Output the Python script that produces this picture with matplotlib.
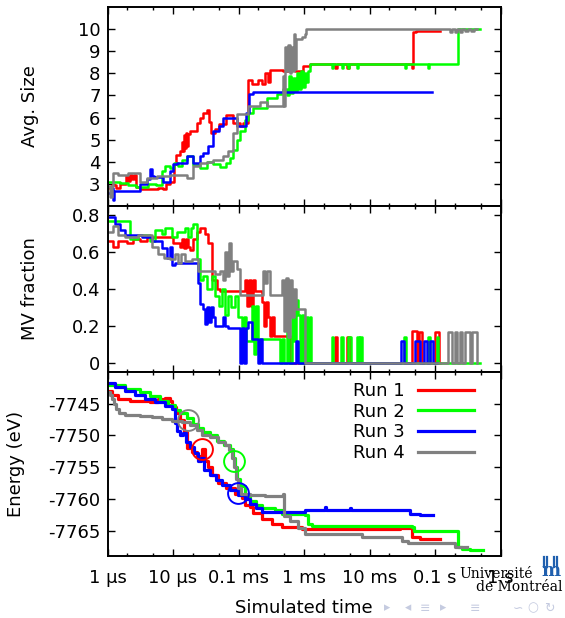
import matplotlib
matplotlib.use('Agg')
import matplotlib.pyplot as plt
from matplotlib.ticker import FixedLocator, NullFormatter
from matplotlib.lines import Line2D

plt.rcParams['font.family'] = ['DejaVu Sans']
plt.rcParams['font.size'] = 13

# all times in microseconds, pairs are (time, value)
runs = ['Run 1', 'Run 2', 'Run 3', 'Run 4']
colors = ['#ff0000', '#00ff00', '#0000ff', '#808080']

size_run1 = [(1.0, 2.8), (1.17, 2.95), (1.35, 2.8), (1.55, 3.0), (1.92, 3.35), (2.06, 3.15), (2.21, 3.4),
             (2.37, 3.2), (2.54, 3.4), (2.72, 2.85), (3.13, 2.75), (5.9, 2.8), (7.04, 2.75), (7.8, 3.0),
             (9.0, 3.1), (10.4, 3.9), (11.1, 4.3), (12.8, 4.5), (13.7, 4.9), (14.2, 4.5), (14.7, 5.2),
             (15.2, 4.6), (15.8, 5.3), (16.4, 4.7), (16.9, 5.25), (18.2, 5.4), (23.3, 5.75), (25.8, 6.0),
             (28.7, 6.2), (33.0, 6.35), (35.4, 5.8), (38.0, 5.3), (43.8, 5.5), (50.4, 5.7), (64.4, 6.1),
             (82.4, 5.75), (105, 5.6), (117, 5.75), (140, 7.7), (161, 7.5), (199, 7.7), (228, 7.5),
             (254, 8.0), (282, 7.6), (303, 8.15), (478, 8.1), (570, 8.2), (729, 8.1), (966, 8.35),
             (1235, 8.4), (2970, 8.25), (3190, 8.4), (4530, 8.25), (4860, 8.4), (44000, 8.25),
             (46100, 9.85), (51300, 9.9), (119000, 9.9)]
size_run2 = [(1.0, 3.1), (1.55, 3.05), (2.06, 2.95), (2.72, 2.85), (4.15, 3.0), (5.5, 2.95), (6.8, 3.6),
             (7.55, 3.8), (9.0, 3.7), (10.4, 3.95), (11.9, 3.8), (13.7, 4.1), (16.4, 4.25), (20.2, 3.85),
             (25.8, 3.7), (33.0, 4.0), (40.8, 3.9), (52.2, 3.75), (64.4, 3.95), (74.2, 4.15), (82.4, 4.55),
             (94.8, 5.0), (105, 5.4), (126, 5.9), (140, 6.2), (166, 6.45), (272, 6.9), (387, 7.05),
             (478, 7.3), (550, 7.0), (590, 7.9), (634, 7.1), (679, 7.8), (729, 7.2), (782, 8.0),
             (839, 7.3), (900, 8.1), (966, 7.4), (1036, 8.0), (1090, 7.6), (1150, 8.1), (1235, 8.4),
             (2670, 8.25), (2770, 8.4), (3750, 8.25), (3900, 8.4), (4700, 8.25), (4860, 8.4),
             (6440, 8.25), (6670, 8.4), (34800, 8.25), (36100, 8.4), (78000, 8.25), (81000, 8.4),
             (224000, 10.0), (486000, 10.0)]
size_run3 = [(1.0, 2.6), (1.13, 2.8), (1.21, 2.25), (1.26, 2.7), (3.13, 3.0), (4.01, 3.2), (4.46, 3.65),
             (4.78, 3.35), (5.13, 3.3), (7.04, 3.1), (9.0, 3.6), (10.0, 3.9), (11.5, 3.95), (16.4, 4.25),
             (20.2, 3.95), (25.8, 4.25), (28.7, 4.4), (34.2, 4.7), (40.8, 5.4), (50.4, 5.6), (58, 6.0),
             (94.8, 5.6), (130, 6.2), (145, 7.05), (166, 7.15), (90000, 7.15)]
size_run4 = [(1.0, 2.9), (1.09, 2.4), (1.17, 2.9), (1.21, 3.5), (1.45, 3.4), (2.06, 3.5), (3.13, 3.1),
             (4.01, 3.25), (5.7, 3.35), (9.0, 3.4), (16.4, 3.25), (20.2, 3.8), (25.8, 3.95), (33.0, 4.0),
             (40.8, 4.1), (58, 4.25), (69, 4.5), (82.4, 5.3), (94.8, 6.15), (140, 6.5), (213, 6.7),
             (272, 6.5), (478, 7.9), (495, 6.5), (513, 9.2), (550, 8.1), (570, 9.3), (611, 8.0),
             (634, 9.2), (679, 8.1), (703, 9.8), (729, 8.2), (755, 9.55), (931, 9.65), (1036, 9.8),
             (1090, 10.0), (169000, 9.85), (182000, 10.0), (202000, 9.85), (217000, 10.0),
             (241000, 9.85), (258000, 10.0), (287000, 9.9), (319000, 10.0), (355000, 9.9),
             (394000, 10.0), (438000, 10.0)]

mv_run1 = [(1.0, 0.66), (1.21, 0.63), (1.45, 0.66), (1.98, 0.65), (2.45, 0.67), (3.13, 0.66), (4.01, 0.68),
           (10, 0.65), (12.8, 0.63), (13.7, 0.67), (14.7, 0.62), (15.8, 0.67), (16.9, 0.63), (18.2, 0.61),
           (20.2, 0.67), (23.3, 0.71), (25.8, 0.73), (30.8, 0.70), (34.2, 0.65), (39.4, 0.45), (47.0, 0.40),
           (52.2, 0.39), (126, 0.45), (135, 0.31), (145, 0.45), (155, 0.31), (166, 0.45), (179, 0.39),
           (228, 0.33), (245, 0.2), (263, 0.33), (282, 0.25), (303, 0.145), (325, 0.25), (348, 0.145),
           (611, 0.0), (2970, 0.14), (3190, 0.0), (4530, 0.14), (5035, 0.0), (44500, 0.17), (53100, 0.0),
           (57000, 0.165), (63400, 0.0), (100000, 0.165), (115000, 0.0), (119000, 0.0)]
mv_run2 = [(1.0, 0.77), (1.55, 0.77), (2.21, 0.67), (2.92, 0.69), (4.46, 0.66), (5.31, 0.72), (6.8, 0.70),
           (7.55, 0.73), (9.66, 0.68), (11.5, 0.71), (15.2, 0.73), (16.9, 0.68), (18.8, 0.73), (20.2, 0.75),
           (23.3, 0.56), (25.8, 0.45), (28.7, 0.47), (33.0, 0.40), (39.4, 0.47), (43.8, 0.36), (50.4, 0.31),
           (56, 0.40), (62.2, 0.26), (69.1, 0.36), (76.8, 0.30), (88.5, 0.36), (98.2, 0.25), (113, 0.09),
           (121, 0.25), (130, 0.12), (161, 0.31), (172, 0.05), (185, 0.31), (199, 0.13), (430, 0.0),
           (461, 0.13), (495, 0.0), (550, 0.25), (590, 0.0), (656, 0.34), (703, 0.12), (755, 0.34),
           (810, 0.26), (869, 0.0), (931, 0.26), (1000, 0.0), (1075, 0.25), (1150, 0.0), (1235, 0.25),
           (1280, 0.0), (2670, 0.14), (2770, 0.0), (3670, 0.14), (3940, 0.0), (4700, 0.14), (5220, 0.0),
           (6440, 0.14), (6920, 0.0), (7160, 0.14), (7680, 0.0), (33700, 0.14), (36100, 0.0),
           (78100, 0.14), (83900, 0.0), (107000, 0.14), (111000, 0.0), (486000, 0.0)]
mv_run3 = [(1.0, 0.79), (1.30, 0.75), (1.55, 0.72), (1.85, 0.69), (3.37, 0.68), (4.77, 0.66), (6.8, 0.62),
           (8.1, 0.57), (9.0, 0.63), (9.66, 0.53), (10.7, 0.54), (24.1, 0.43), (25.8, 0.32), (28.7, 0.29),
           (30.8, 0.21), (33.0, 0.30), (35.4, 0.22), (38.0, 0.30), (40.8, 0.25), (43.8, 0.20), (58, 0.25),
           (62.2, 0.20), (69.1, 0.19), (105, 0.0), (113, 0.19), (121, 0.0), (130, 0.19), (140, 0.22),
           (161, 0.13), (199, 0.0), (213, 0.13), (228, 0.0), (755, 0.12), (810, 0.0), (30300, 0.12),
           (33700, 0.0), (49500, 0.12), (59000, 0.0), (67900, 0.12), (75500, 0.0), (83900, 0.12),
           (93200, 0.0), (107000, 0.0)]
mv_run4 = [(1.0, 0.71), (1.21, 0.74), (1.45, 0.69), (1.85, 0.68), (2.92, 0.69), (4.77, 0.63), (5.9, 0.59),
           (7.29, 0.57), (9.0, 0.56), (10.7, 0.59), (11.9, 0.54), (13.2, 0.59), (15.2, 0.55), (19.5, 0.56),
           (24.1, 0.50), (43.8, 0.48), (52.2, 0.50), (58, 0.45), (62.2, 0.60), (66.7, 0.47), (71.6, 0.65),
           (76.8, 0.50), (82.4, 0.55), (94.8, 0.51), (105, 0.37), (236, 0.50), (254, 0.43), (272, 0.50),
           (303, 0.37), (461, 0.45), (495, 0.17), (531, 0.46), (570, 0.14), (611, 0.45), (656, 0.25),
           (703, 0.40), (755, 0.29), (1036, 0.0), (158000, 0.165), (182000, 0.0), (202000, 0.165),
           (217000, 0.0), (241000, 0.165), (258000, 0.0), (287000, 0.165), (342000, 0.0),
           (367000, 0.165), (438000, 0.0)]

e_run1 = [(1.0, -7743.0), (1.17, -7743.6), (1.45, -7744.3), (2.21, -7744.6), (4.46, -7744.7), (5.9, -7744.3),
          (7.55, -7744.1), (9.0, -7744.6), (9.66, -7745.5), (11.1, -7746.5), (12.8, -7747.6), (14.7, -7749.5),
          (16.4, -7752.0), (19.5, -7752.6), (23.3, -7753.2), (27.7, -7752.2), (30.8, -7754.0), (34.2, -7755.0),
          (39.4, -7756.3), (48.6, -7757.5), (64.4, -7758.3), (88.5, -7759.3), (113, -7759.8), (126, -7761.0),
          (150, -7761.3), (166, -7762.2), (228, -7763.2), (325, -7764.0), (461, -7764.4), (931, -7764.7),
          (29200, -7764.6), (44500, -7766.0), (59000, -7766.3), (119000, -7766.3)]
e_run2 = [(1.0, -7742.0), (1.85, -7742.6), (3.13, -7743.2), (4.46, -7743.8), (6.33, -7744.6), (8.39, -7745.2),
          (10.7, -7746.0), (12.8, -7746.5), (16.4, -7747.3), (20.2, -7748.2), (24.1, -7748.8), (28.7, -7749.5),
          (36.7, -7750.0), (47.0, -7750.8), (60, -7751.5), (74.2, -7752.2), (82.4, -7753.5), (88.5, -7755.0),
          (94.8, -7756.8), (105, -7758.0), (126, -7759.6), (150, -7760.4), (185, -7761.0), (228, -7761.5),
          (361, -7761.8), (461, -7762.3), (1036, -7762.5), (1150, -7764.0), (1325, -7764.2), (44500, -7764.5),
          (47800, -7765.0), (224000, -7767.6), (258000, -7767.9), (342000, -7768.1), (541000, -7768.1)]
e_run3 = [(1.0, -7741.7), (1.30, -7742.3), (1.85, -7743.0), (2.63, -7743.6), (3.74, -7744.2), (5.31, -7744.8),
          (7.55, -7745.3), (9.66, -7745.8), (10.7, -7748.0), (11.5, -7749.3), (12.8, -7750.0), (14.2, -7749.6),
          (15.8, -7751.0), (18.2, -7751.8), (20.9, -7752.8), (24.1, -7754.0), (26.8, -7753.5), (29.7, -7755.4),
          (36.7, -7756.2), (45.3, -7757.0), (56, -7757.8), (74.2, -7758.6), (98.2, -7759.4), (126, -7760.0),
          (150, -7760.8), (185, -7761.4), (228, -7762.0), (1036, -7761.8), (2090, -7761.3), (2200, -7761.8),
          (5000, -7761.4), (5300, -7761.8), (41500, -7762.3), (59000, -7762.6), (93200, -7762.6)]
e_run4 = [(1.0, -7743.2), (1.09, -7743.6), (1.17, -7744.3), (1.26, -7745.0), (1.35, -7745.8), (1.5, -7746.4),
          (1.85, -7746.7), (3.13, -7746.9), (4.77, -7747.1), (6.8, -7747.4), (9.66, -7747.7), (13.7, -7747.9),
          (18.2, -7748.4), (23.3, -7749.2), (27.7, -7749.9), (36.7, -7750.3), (48.6, -7751.0), (62.2, -7751.5),
          (71.6, -7752.3), (79.6, -7753.5), (85.4, -7755.0), (91.6, -7756.8), (98.2, -7758.3), (109, -7759.2),
          (150, -7759.4), (254, -7759.5), (478, -7759.3), (495, -7762.7), (611, -7763.5), (810, -7764.6),
          (1036, -7765.5), (4230, -7765.6), (7680, -7766.0), (31300, -7766.6), (38700, -7767.0),
          (202000, -7767.6), (308000, -7767.6)]

# highlighted events on the energy curves (Run 1..4)
event_t = [28.0, 85.3, 99.3, 16.8]
event_e = [-7752.1, -7754.0, -7759.1, -7747.5]

xtick_pos = [1, 10, 100, 1e3, 1e4, 1e5, 1e6]
xtick_lab = ['1 µs', '10 µs', '0.1 ms', '1 ms', '10 ms', '0.1 s', '1 s']
size_ticks = [3, 4, 5, 6, 7, 8, 9, 10]
mv_ticks = [0, 0.2, 0.4, 0.6, 0.8]
mv_labels = ['0', '0.2', '0.4', '0.6', '0.8']
e_ticks = [-7765, -7760, -7755, -7750, -7745]
e_labels = ['-7765', '-7760', '-7755', '-7750', '-7745']

fig = plt.figure(figsize=(5.65, 6.18), dpi=100)
ax1 = fig.add_axes([0.1903, 0.6667, 0.6956, 0.3220])
ax2 = fig.add_axes([0.1903, 0.3981, 0.6956, 0.2686])
ax3 = fig.add_axes([0.1903, 0.1003, 0.6956, 0.2977])

for series, c in zip([size_run1, size_run2, size_run3, size_run4], colors):
    t, v = zip(*series)
    ax1.plot(t, v, color=c, lw=1.8, drawstyle='steps-post')
for series, c in zip([mv_run1, mv_run2, mv_run3, mv_run4], colors):
    t, v = zip(*series)
    ax2.plot(t, v, color=c, lw=1.8, drawstyle='steps-post')
for series, c, lab in zip([e_run1, e_run2, e_run3, e_run4], colors, runs):
    t, v = zip(*series)
    ax3.plot(t, v, color=c, lw=2.3, label=lab, drawstyle='steps-post')
for tt, ee, c in zip(event_t, event_e, colors):
    ax3.plot([tt], [ee], 'o', mfc='none', mec=c, ms=15, mew=1.4)

minor = [m * 10 ** k for k in range(6) for m in (2, 5)]
for ax in (ax1, ax2, ax3):
    ax.set_xscale('log')
    ax.set_xlim(1, 1e6)
    ax.xaxis.set_major_locator(FixedLocator(xtick_pos))
    ax.xaxis.set_minor_locator(FixedLocator(minor))
    ax.xaxis.set_minor_formatter(NullFormatter())
    ax.tick_params(which='both', direction='in', top=True, right=True, width=1.0)
    ax.tick_params(which='major', length=5, pad=5)
    ax.tick_params(which='minor', length=2.5)
    for s in ax.spines.values():
        s.set_linewidth(1.4)

ax1.set_xticklabels([])
ax2.set_xticklabels([])
ax3.set_xticklabels(xtick_lab)
ax3.tick_params(axis='x', pad=9)

ax1.set_ylim(2.0, 11.0)
ax1.set_yticks(size_ticks)
ax2.set_ylim(-0.05, 0.85)
ax2.set_yticks(mv_ticks)
ax2.set_yticklabels(mv_labels)
ax3.set_ylim(-7769, -7740)
ax3.set_yticks(e_ticks)
ax3.set_yticklabels(e_labels)

ax1.set_ylabel('Avg. Size', va='center')
ax1.yaxis.set_label_coords(-0.197, 0.5)
ax2.set_ylabel('MV fraction', va='center')
ax2.yaxis.set_label_coords(-0.197, 0.5)
ax3.set_ylabel('Energy (eV)', va='center')
ax3.yaxis.set_label_coords(-0.232, 0.5)
ax3.set_xlabel('Simulated time', va='center')
ax3.xaxis.set_label_coords(0.5, -0.28)

ax3.legend(loc='upper right', bbox_to_anchor=(0.973, 1.035), frameon=False, markerfirst=False,
           handlelength=3.1, handletextpad=0.7, labelspacing=0.15, fontsize=13)

# university logo and slide navigation marks
fig.text(0.943, 0.064, 'Université', family='DejaVu Serif', fontsize=10, ha='right', va='baseline')
fig.text(0.995, 0.043, 'de Montréal', family='DejaVu Serif', fontsize=10, ha='right', va='baseline')
logo_blue = '#1f5fae'
for x in (0.963, 0.969, 0.980, 0.986):
    fig.add_artist(Line2D([x, x], [0.082, 0.098], color=logo_blue, lw=1.6, transform=fig.transFigure))
fig.text(0.975, 0.068, 'm', family='DejaVu Serif', fontsize=13, weight='bold', color=logo_blue,
         ha='center', va='baseline')
nav = '#c5cbe0'
for x, s in [(0.685, '▸'), (0.722, '◂'), (0.752, '≡'), (0.784, '▸'), (0.84, '≡'), (0.917, '∽'),
             (0.943, '○'), (0.973, '↻')]:
    fig.text(x, 0.016, s, color=nav, fontsize=9, ha='center', va='center')

fig.savefig('out.png', dpi=100)
